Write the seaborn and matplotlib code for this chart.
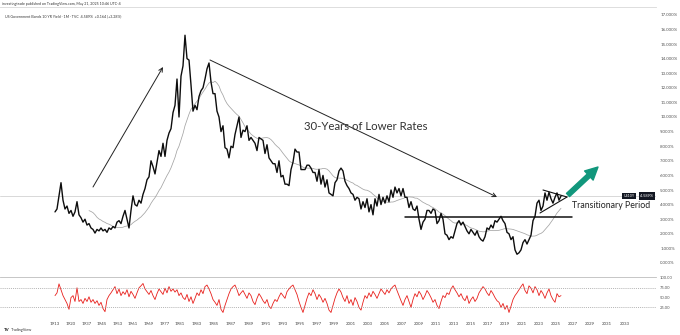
import numpy as np
import pandas as pd
import matplotlib
matplotlib.use("Agg")
import matplotlib.pyplot as plt
import seaborn as sns

# Monthly-bar style series: US 10Y yield (%) and its RSI, one value per bar
yield_pct = [
    3.5, 3.7, 4.6, 5.5, 4.3, 3.7, 3.9, 3.4, 3.6, 3.2,
    3.5, 4.2, 3.3, 3.1, 2.8, 3.0, 2.6, 2.7, 2.4, 2.3,
    2.05, 2.3, 2.2, 2.4, 2.2, 2.3, 2.1, 2.4, 2.3, 2.5,
    2.4, 2.8, 2.9, 2.7, 3.2, 3.6, 3.0, 2.4, 3.6, 4.6,
    4.0, 3.9, 4.3, 4.1, 4.7, 5.1, 5.7, 5.9, 7.0, 6.6,
    6.1, 6.9, 7.7, 7.3, 8.2, 7.3, 8.4, 8.9, 9.2, 10.3,
    10.8, 12.6, 10.0, 12.8, 13.5, 15.6, 14.0, 13.9, 12.2, 10.4,
    10.8, 10.5, 11.4, 11.8, 12.0, 12.6, 13.3, 13.7, 12.4, 11.6,
    11.6, 10.4, 10.0, 9.0, 9.4, 7.9, 7.8, 7.2, 8.0, 7.9,
    8.8, 9.4, 10.0, 8.6, 9.1, 9.0, 9.4, 8.4, 8.6, 8.4,
    8.2, 7.7, 8.6, 8.5, 8.4, 7.5, 8.1, 7.2, 7.0, 6.8,
    6.8, 6.2, 7.0, 5.9, 6.0, 5.4, 5.4, 5.3, 6.4, 6.9,
    7.8, 7.6, 7.6, 6.4, 6.4, 6.4, 6.7, 6.7, 6.5, 6.2,
    6.2, 5.6, 6.4, 5.4, 6.0, 5.2, 5.7, 4.8, 4.7, 4.6,
    5.5, 5.7, 6.3, 6.5, 6.3, 5.6, 5.3, 5.1, 4.8, 4.7,
    4.3, 4.5, 4.4, 3.7, 4.2, 3.8, 4.4, 3.5, 4.0, 3.3,
    4.4, 3.9, 4.7, 4.0, 4.5, 4.1, 4.6, 4.2, 5.0, 4.5,
    5.2, 4.8, 5.1, 4.6, 5.1, 4.5, 4.5, 3.8, 4.2, 3.7,
    3.6, 3.9, 3.0, 2.3, 2.8, 3.0, 3.6, 3.6, 3.4, 3.7,
    3.6, 2.7, 2.9, 3.4, 3.0, 2.0, 1.9, 1.6, 1.8, 1.7,
    2.2, 2.7, 2.9, 2.6, 2.8, 2.5, 2.2, 2.0, 2.3, 2.1,
    1.9, 2.2, 1.8, 1.6, 1.5, 1.8, 2.4, 2.3, 2.6, 2.4,
    2.9, 2.8, 3.0, 3.2, 2.9, 2.7, 2.1, 2.0, 1.6, 1.8,
    0.9, 0.6, 0.7, 0.9, 1.4, 1.6, 1.3, 1.6, 1.9, 2.9,
    3.2, 4.1, 4.3, 3.6, 3.9, 4.8, 4.3, 4.85, 4.4, 4.1,
    4.5, 4.8, 4.3, 4.589,
]

rsi_vals = [
    55, 62, 85, 70, 55, 45, 35, 20, 50, 55,
    40, 75, 40, 45, 35, 48, 40, 52, 38, 45,
    35, 42, 30, 38, 22, 14, 45, 55, 62, 70,
    78, 60, 72, 55, 65, 58, 70, 52, 66, 58,
    48, 62, 75, 80, 86, 72, 65, 58, 68, 55,
    45, 60, 72, 65, 58, 74, 62, 78, 66, 72,
    64, 70, 55, 62, 50, 45, 58, 40, 52, 35,
    48, 62, 55, 70, 60, 78, 82, 72, 60, 45,
    38, 30, 45, 20, 12, 30, 45, 60, 72, 78,
    82, 70, 55, 62, 68, 58, 48, 62, 55, 40,
    32, 48, 60, 52, 42, 35, 45, 28, 22, 35,
    45, 40, 52, 62, 55, 48, 65, 72, 78, 82,
    70, 58, 40, 25, 12, 30, 48, 62, 55, 70,
    60, 45, 58, 50, 38, 48, 35, 18, 12, 30,
    48, 62, 72, 64, 50, 40, 55, 35, 45, 30,
    50, 40, 25, 18, 38, 55, 48, 62, 52, 66,
    58, 48, 60, 72, 65, 58, 70, 62, 72, 78,
    82, 68, 55, 42, 30, 45, 55, 40, 25, 45,
    60, 52, 66, 58, 45, 55, 68, 60, 50, 38,
    45, 30, 22, 40, 55, 50, 62, 58, 72, 80,
    70, 62, 52, 60, 48, 42, 55, 35, 45, 52,
    40, 48, 62, 70, 78, 72, 62, 55, 68, 60,
    50, 42, 38, 25, 35, 20, 30, 12, 28, 45,
    55, 62, 70, 78, 85, 68, 60, 80, 74, 62,
    78, 70, 55, 68, 60, 48, 62, 72, 55, 45,
    38, 60, 52, 55,
]

year_labels = ["1913", "1920", "1937", "1945", "1953", "1961", "1969", "1977", "1981"] + \
              [str(y) for y in range(1983, 2034, 2)]
price_ticks = list(range(0, 18))
rsi_ticks = [25, 50, 75, 100]
last_close = 4.589
symbol = "US10Y"

# ---- layout (bar axis: each bar is 2 units wide, axis units ~ pixels) ----
W, H = 680, 335
FIRST_BAR, BAR_W = 55, 2.0
n = len(yield_pct)
bars = FIRST_BAR + BAR_W * np.arange(n)
df = pd.DataFrame({"bar": bars, "yield": yield_pct, "rsi": rsi_vals[:n]})
df["ma"] = df["yield"].rolling(18).mean()

tick_pos = [FIRST_BAR + 15.6 * k for k in range(9)]
tick_pos += [tick_pos[-1] + 17.1 * m for m in range(1, len(year_labels) - 8)]

sns.set_theme(style="white")
plt.rcParams["font.family"] = ["Lato", "DejaVu Sans"]

fig = plt.figure(figsize=(W / 100, H / 100), dpi=100)
fig.patch.set_facecolor("white")

def frac(top_px, bottom_px):
    return (H - bottom_px) / H, (bottom_px - top_px) / H

AX_RIGHT = 656
b, h = frac(7, 277)
ax = fig.add_axes([0, b, AX_RIGHT / W, h])
b2, h2 = frac(277, 316)
ax2 = fig.add_axes([0, b2, AX_RIGHT / W, h2], sharex=ax)

PX_PER_PCT = 14.6
ZERO_PX = 263
def pct_at(py):
    return (ZERO_PX - py) / PX_PER_PCT

ax.set_xlim(0, AX_RIGHT)
ax.set_ylim(pct_at(277), pct_at(7))

# current price line
ax.axhline(last_close, color="#d2d2d2", lw=0.6, zorder=1)

sns.lineplot(data=df, x="bar", y="ma", ax=ax, color="#a4a4a4", lw=0.55, zorder=2)
sns.lineplot(data=df, x="bar", y="yield", ax=ax, color="#0d0d0d", lw=1.0, zorder=3)

ax.yaxis.tick_right()
ax.set_yticks(price_ticks)
ax.set_yticklabels([f"{v:.3f}%" for v in price_ticks])
ax.tick_params(axis="y", length=0, pad=3, labelsize=3.2, labelcolor="#555555")
ax.tick_params(axis="x", length=0, labelbottom=False)
ax.set_xlabel("")
ax.set_ylabel("")
for s in ["left", "right", "bottom"]:
    ax.spines[s].set_visible(False)
ax.spines["top"].set_color("#d8d8d8")
ax.spines["top"].set_linewidth(0.6)

# ---- drawings ----
ax.annotate("", xy=(163, pct_at(67)), xytext=(93, pct_at(187)),
            arrowprops=dict(arrowstyle="->", color="#222222", lw=0.7,
                            mutation_scale=7, shrinkA=0, shrinkB=0))
ax.annotate("", xy=(497, pct_at(197)), xytext=(210, pct_at(60)),
            arrowprops=dict(arrowstyle="->", color="#222222", lw=0.7,
                            mutation_scale=7, shrinkA=0, shrinkB=0))
ax.text(366, pct_at(127), "30-Years of Lower Rates", ha="center", va="center",
        fontsize=8.2, color="#333333")

# breakout level and consolidation triangle
ax.plot([405, 572], [pct_at(216.5), pct_at(216.5)], color="#111111", lw=1.1)
ax.plot([543, 567], [pct_at(190), pct_at(197)], color="#111111", lw=0.8)
ax.plot([540, 567], [pct_at(213), pct_at(197)], color="#111111", lw=0.8)
ax.annotate("", xy=(598, pct_at(167)), xytext=(568, pct_at(195)),
            arrowprops=dict(arrowstyle="simple,head_width=0.9,head_length=0.9,tail_width=0.32",
                            color="#11977c", mutation_scale=10, shrinkA=0, shrinkB=0))
ax.text(572, pct_at(205), "Transitionary Period", ha="left", va="center",
        fontsize=6.3, color="#222222")

# price tag on the scale
ax.text(629, last_close, symbol, ha="center", va="center", fontsize=2.6, color="white",
        bbox=dict(boxstyle="square,pad=0.35", fc="#131722", ec="none"))
ax.text(647, last_close, f"{last_close:.3f}%", ha="center", va="center", fontsize=2.8,
        color="white", bbox=dict(boxstyle="square,pad=0.45", fc="#131722", ec="none"))

# ---- RSI pane ----
sns.lineplot(data=df, x="bar", y="rsi", ax=ax2, color="#e8201c", lw=0.6)
ax2.set_ylim(3, 102.5)
for lvl in (75, 25):
    ax2.axhline(lvl, color="#9a9a9a", lw=0.5, ls=(0, (1.5, 1.5)))
ax2.yaxis.tick_right()
ax2.set_yticks(rsi_ticks)
ax2.set_yticklabels([f"{v:.2f}" for v in rsi_ticks])
ax2.tick_params(axis="y", length=0, pad=3, labelsize=3.0, labelcolor="#555555")
ax2.set_xticks(tick_pos)
ax2.set_xticklabels(year_labels)
ax2.tick_params(axis="x", length=0, pad=4, labelsize=3.2, labelcolor="#444444")
ax2.set_xlabel("")
ax2.set_ylabel("")
for s in ["left", "right", "bottom"]:
    ax2.spines[s].set_visible(False)
ax2.spines["top"].set_color("#bdbdbd")
ax2.spines["top"].set_linewidth(0.6)

# ---- header and footer ----
fig.text(2 / W, 1 - 4.5 / H, "investingtrade published on TradingView.com, May 21, 2025 10:46 UTC-4",
         fontsize=2.6, color="#333333", va="center", ha="left")
fig.text(5 / W, 1 - 16 / H, "US Government Bonds 10 YR Yield · 1M · TVC  4.589%  +0.164 (+3.28%)",
         fontsize=2.6, color="#333333", va="center", ha="left")
fig.text(4 / W, 1 - 330 / H, "TV", fontsize=3.2, color="#111111", weight="bold",
         va="center", ha="left")
fig.text(11 / W, 1 - 330 / H, "TradingView", fontsize=2.8, color="#333333",
         va="center", ha="left")

fig.savefig("out.png", dpi=100, facecolor="white")
